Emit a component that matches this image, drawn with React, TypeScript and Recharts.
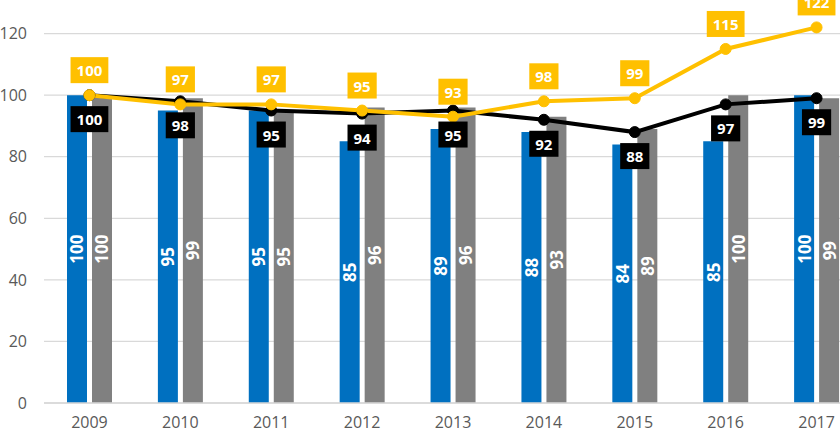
import { ComposedChart, Bar, Line, XAxis, YAxis, CartesianGrid, LabelList } from "recharts";

const years = ["2009", "2010", "2011", "2012", "2013", "2014", "2015", "2016", "2017"];
const blueBars = [100, 95, 95, 85, 89, 88, 84, 85, 100];
const greyBars = [100, 99, 95, 96, 96, 93, 89, 100, 99];
const yellowLine = [100, 97, 97, 95, 93, 98, 99, 115, 122];
const blackLine = [100, 98, 95, 94, 95, 92, 88, 97, 99];
const yTicks = [0, 20, 40, 60, 80, 100, 120];

const data = years.map((year, i) => ({
  year,
  blue: blueBars[i],
  grey: greyBars[i],
  yellow: yellowLine[i],
  black: blackLine[i],
}));

const FONT = "'Open Sans', 'Noto Sans', sans-serif";
const YELLOW = "#FFC000";

function BarLabel(props: any) {
  const { x, y, width, height, value } = props;
  const cx = x + width / 2;
  const cy = y + height / 2;
  return (
    <text
      x={cx}
      y={cy}
      transform={`rotate(-90 ${cx} ${cy})`}
      textAnchor="middle"
      dominantBaseline="central"
      fill="#fff"
      fontSize={17}
      fontWeight={700}
      fontFamily={FONT}
    >
      {value}
    </text>
  );
}

function boxLabel(bg: string, above: boolean) {
  return (props: any) => {
    const { x, y, value } = props;
    const text = String(value);
    const w = text.length * 8.6 + 12;
    const h = 26;
    const cy = above ? y - 25 : y + 24;
    return (
      <g>
        <rect x={x - w / 2} y={cy - h / 2} width={w} height={h} fill={bg} />
        <text
          x={x}
          y={cy}
          textAnchor="middle"
          dominantBaseline="central"
          fill="#fff"
          fontSize={15}
          fontWeight={700}
          fontFamily={FONT}
        >
          {text}
        </text>
      </g>
    );
  };
}

export default function App() {
  return (
    <div style={{ position: "absolute", left: 0, top: 0, width: 840, height: 433, overflow: "hidden", background: "#fff" }}>
      <div style={{ position: "absolute", left: 0, top: -28 }}>
        <ComposedChart
          width={862}
          height={461}
          data={data}
          margin={{ top: 0, right: 0, bottom: 0, left: 0 }}
          barGap={5}
          barCategoryGap="24.5%"
          style={{ fontFamily: FONT }}
        >
          <CartesianGrid vertical={false} stroke="#d9d9d9" strokeWidth={1.3} />
          <XAxis
            dataKey="year"
            height={30}
            tickLine={false}
            axisLine={{ stroke: "#d9d9d9", strokeWidth: 1.3 }}
            tickMargin={8}
            tick={{ fill: "#595959", fontSize: 16 }}
          />
          <YAxis
            width={44}
            domain={[0, 140]}
            ticks={yTicks}
            interval={0}
            axisLine={false}
            tickLine={false}
            tickMargin={11}
            tick={{ fill: "#595959", fontSize: 16 }}
          />
          <Bar dataKey="blue" fill="#0070C0" barSize={20} isAnimationActive={false}>
            <LabelList dataKey="blue" content={BarLabel} />
          </Bar>
          <Bar dataKey="grey" fill="#808080" barSize={20} isAnimationActive={false}>
            <LabelList dataKey="grey" content={BarLabel} />
          </Bar>
          <Line
            dataKey="black"
            stroke="#000"
            strokeWidth={4}
            dot={{ r: 5.5, fill: "#000", stroke: "#000", strokeWidth: 1 }}
            activeDot={false}
            isAnimationActive={false}
          >
            <LabelList dataKey="black" content={boxLabel("#000", false)} />
          </Line>
          <Line
            dataKey="yellow"
            stroke={YELLOW}
            strokeWidth={4}
            dot={{ r: 5.5, fill: YELLOW, stroke: YELLOW, strokeWidth: 1 }}
            activeDot={false}
            isAnimationActive={false}
          >
            <LabelList dataKey="yellow" content={boxLabel(YELLOW, true)} />
          </Line>
        </ComposedChart>
      </div>
    </div>
  );
}
